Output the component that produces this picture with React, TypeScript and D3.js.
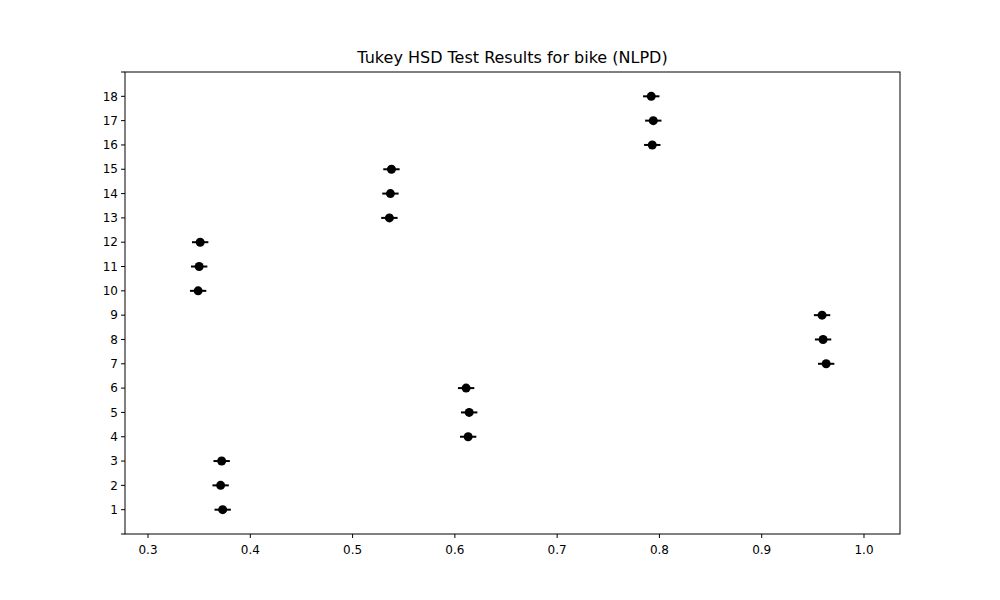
import * as d3 from "d3";
import React from "react";

const groups = [1, 2, 3, 4, 5, 6, 7, 8, 9, 10, 11, 12, 13, 14, 15, 16, 17, 18];
const means = [0.373, 0.371, 0.372, 0.613, 0.614, 0.611, 0.963, 0.960, 0.959, 0.349, 0.350, 0.351, 0.536, 0.537, 0.538, 0.793, 0.794, 0.792];
const halfWidths = [0.008, 0.008, 0.008, 0.008, 0.008, 0.008, 0.008, 0.008, 0.008, 0.008, 0.008, 0.008, 0.008, 0.008, 0.008, 0.008, 0.008, 0.008];
const xTicks = [0.3, 0.4, 0.5, 0.6, 0.7, 0.8, 0.9, 1.0];
const yTicks = d3.range(0, 20);

const W = 1000, H = 600;
const M = { left: 125, right: 100, top: 72, bottom: 66 };

export default function App() {
  const x = d3.scaleLinear().domain([0.2775, 1.0352]).range([M.left, W - M.right]);
  const y = d3.scaleLinear().domain([0, 19]).range([H - M.bottom, M.top]);
  const font = "DejaVu Sans, sans-serif";
  return (
    <svg width={W} height={H} style={{ position: "absolute", left: 0, top: 0, background: "#fff" }} fontFamily={font}>
      <text x={(M.left + W - M.right) / 2} y={63} textAnchor="middle" fontSize={16}>
        Tukey HSD Test Results for bike (NLPD)
      </text>
      {xTicks.map((t) => (
        <g key={t}>
          <line x1={x(t)} x2={x(t)} y1={H - M.bottom} y2={H - M.bottom + 4} stroke="#000" />
          <text x={x(t)} y={H - M.bottom + 20} textAnchor="middle" fontSize={12}>{t.toFixed(1)}</text>
        </g>
      ))}
      {yTicks.map((t) => (
        <g key={t}>
          <line x1={M.left - 4} x2={M.left} y1={y(t)} y2={y(t)} stroke="#000" />
          {t > 0 && t < 19 && (
            <text x={M.left - 7} y={y(t)} dy="0.35em" textAnchor="end" fontSize={12}>{t}</text>
          )}
        </g>
      ))}
      {groups.map((g, i) => (
        <g key={g}>
          <line x1={x(means[i] - halfWidths[i])} x2={x(means[i] + halfWidths[i])} y1={y(g)} y2={y(g)} stroke="#000" strokeWidth={2} />
          <circle cx={x(means[i])} cy={y(g)} r={4.5} fill="#000" />
        </g>
      ))}
      <rect x={M.left} y={M.top} width={W - M.left - M.right} height={H - M.top - M.bottom} fill="none" stroke="#000" strokeWidth={1} />
    </svg>
  );
}
